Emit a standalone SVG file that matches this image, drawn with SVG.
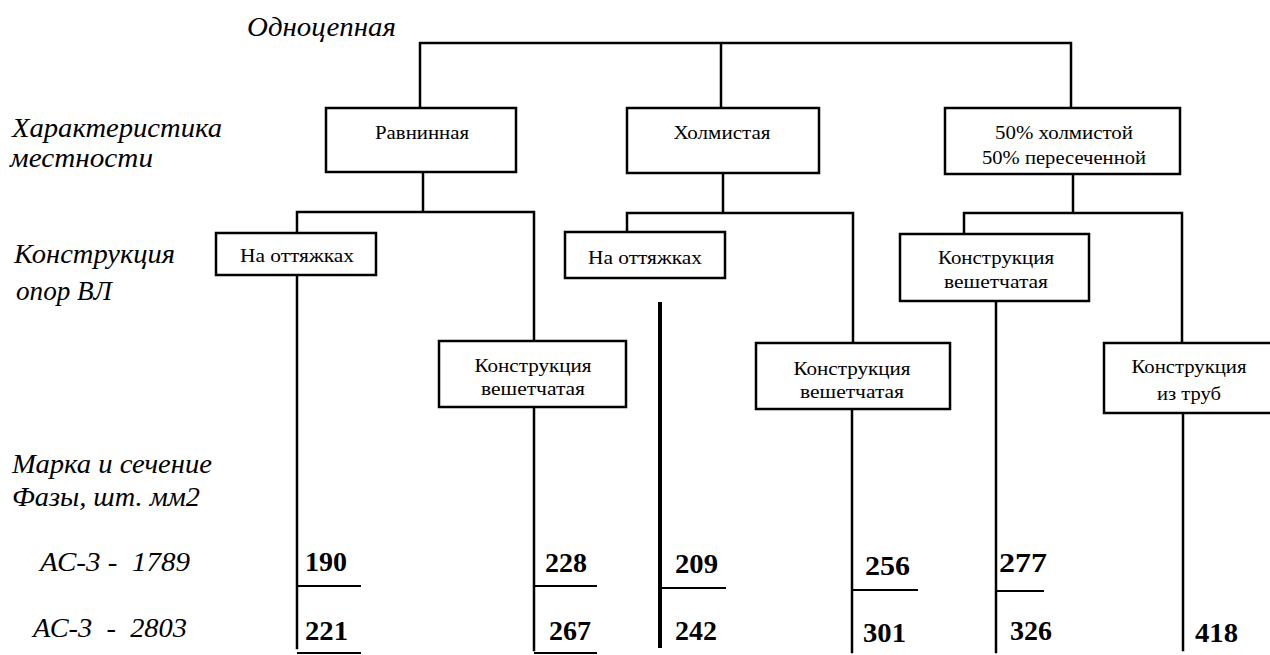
<svg xmlns="http://www.w3.org/2000/svg" width="1270" height="655" viewBox="0 0 1270 655">
<style>
.bg{fill:#fff}
.box{fill:#fff;stroke:#000;stroke-width:2.5}
.ln{fill:none;stroke:#000;stroke-width:2.5;stroke-linecap:square}
.thick{fill:none;stroke:#000;stroke-width:4}
.tick{fill:none;stroke:#000;stroke-width:2}
text{font-family:'Liberation Serif','DejaVu Serif','Times New Roman',serif;fill:#000}
.lbl{font-style:italic;font-size:28px;white-space:pre}
.bt{font-size:18px;text-anchor:middle}
.num{font-weight:bold;font-size:27px}
</style>
<rect class="bg" x="0" y="0" width="1270" height="655"/>

<g id="labels">
<text class="lbl" x="247" y="36" textLength="149" lengthAdjust="spacingAndGlyphs">Одноцепная</text>
<text class="lbl" x="12" y="137" textLength="210" lengthAdjust="spacingAndGlyphs">Характеристика</text>
<text class="lbl" x="10" y="167" textLength="143" lengthAdjust="spacingAndGlyphs">местности</text>
<text class="lbl" x="14" y="263" textLength="161" lengthAdjust="spacingAndGlyphs">Конструкция</text>
<text class="lbl" x="16" y="300" textLength="96" lengthAdjust="spacingAndGlyphs">опор ВЛ</text>
<text class="lbl" x="12" y="473" textLength="200" lengthAdjust="spacingAndGlyphs">Марка и сечение</text>
<text class="lbl" x="12" y="506" textLength="188" lengthAdjust="spacingAndGlyphs">Фазы, шт. мм2</text>
<text class="lbl" x="40" y="571" textLength="150" lengthAdjust="spacingAndGlyphs">АС-3 -  1789</text>
<text class="lbl" x="33" y="637" textLength="154" lengthAdjust="spacingAndGlyphs">АС-3  -  2803</text>
</g>

<g id="connectors">
<path class="ln" d="M420,108 V43 H1071 V108 M721,43 V108"/>
<path class="ln" d="M423,172 V212 M297,212 H534 M297,212 V233 M534,212 V341"/>
<path class="ln" d="M723,173 V213 M627,213 H853 M627,213 V232 M853,213 V343"/>
<path class="ln" d="M1073,174 V213 M964,213 H1182 M964,213 V234 M1182,213 V343"/>
<path class="ln" d="M297,275 V648 M534,407 V650 M852,409 V652 M996,301 V652 M1183,413 V650"/>
<path class="thick" d="M660,302 V648"/>
<path class="tick" d="M297,586 H361 M534,586 H597 M661,588 H726 M852,590 H918 M996,591 H1044 M297,653 H361 M534,653 H597"/>
</g>

<g id="n-ravn">
<rect class="box" x="326" y="108" width="190" height="64"/>
<text class="bt" x="422" y="139" textLength="94" lengthAdjust="spacingAndGlyphs">Равнинная</text>
</g>
<g id="n-holm">
<rect class="box" x="627" y="108" width="192" height="65"/>
<text class="bt" x="722" y="139" textLength="97" lengthAdjust="spacingAndGlyphs">Холмистая</text>
</g>
<g id="n-mix">
<rect class="box" x="945" y="108" width="235" height="66"/>
<text class="bt" x="1064" y="139" textLength="138" lengthAdjust="spacingAndGlyphs">50% холмистой</text>
<text class="bt" x="1064" y="164" textLength="164" lengthAdjust="spacingAndGlyphs">50% пересеченной</text>
</g>

<g id="n-ott1">
<rect class="box" x="216" y="233" width="160" height="42"/>
<text class="bt" x="297" y="262" textLength="114" lengthAdjust="spacingAndGlyphs">На оттяжках</text>
</g>
<g id="n-resh1">
<rect class="box" x="439" y="341" width="187" height="66"/>
<text class="bt" x="533" y="372" textLength="117" lengthAdjust="spacingAndGlyphs">Конструкция</text>
<text class="bt" x="533" y="395" textLength="104" lengthAdjust="spacingAndGlyphs">вешетчатая</text>
</g>
<g id="n-ott2">
<rect class="box" x="565" y="232" width="160" height="46"/>
<text class="bt" x="645" y="264" textLength="114" lengthAdjust="spacingAndGlyphs">На оттяжках</text>
</g>
<g id="n-resh2">
<rect class="box" x="756" y="343" width="194" height="66"/>
<text class="bt" x="852" y="375" textLength="117" lengthAdjust="spacingAndGlyphs">Конструкция</text>
<text class="bt" x="852" y="398" textLength="104" lengthAdjust="spacingAndGlyphs">вешетчатая</text>
</g>
<g id="n-resh3">
<rect class="box" x="900" y="234" width="189" height="67"/>
<text class="bt" x="996" y="264" textLength="116" lengthAdjust="spacingAndGlyphs">Конструкция</text>
<text class="bt" x="996" y="288" textLength="104" lengthAdjust="spacingAndGlyphs">вешетчатая</text>
</g>
<g id="n-trub">
<rect class="box" x="1104" y="343" width="180" height="70"/>
<text class="bt" x="1189" y="373" textLength="115" lengthAdjust="spacingAndGlyphs">Конструкция</text>
<text class="bt" x="1189" y="400" textLength="64" lengthAdjust="spacingAndGlyphs">из труб</text>
</g>

<g id="values">
<text class="num" x="305" y="571" textLength="42" lengthAdjust="spacingAndGlyphs">190</text>
<text class="num" x="545" y="572" textLength="42" lengthAdjust="spacingAndGlyphs">228</text>
<text class="num" x="675" y="573" textLength="43" lengthAdjust="spacingAndGlyphs">209</text>
<text class="num" x="865" y="575" textLength="45" lengthAdjust="spacingAndGlyphs">256</text>
<text class="num" x="999" y="572" textLength="48" lengthAdjust="spacingAndGlyphs">277</text>
<text class="num" x="305" y="640" textLength="43" lengthAdjust="spacingAndGlyphs">221</text>
<text class="num" x="549" y="640" textLength="42" lengthAdjust="spacingAndGlyphs">267</text>
<text class="num" x="675" y="640" textLength="42" lengthAdjust="spacingAndGlyphs">242</text>
<text class="num" x="863" y="642" textLength="43" lengthAdjust="spacingAndGlyphs">301</text>
<text class="num" x="1010" y="640" textLength="42" lengthAdjust="spacingAndGlyphs">326</text>
<text class="num" x="1195" y="642" textLength="43" lengthAdjust="spacingAndGlyphs">418</text>
</g>
</svg>
